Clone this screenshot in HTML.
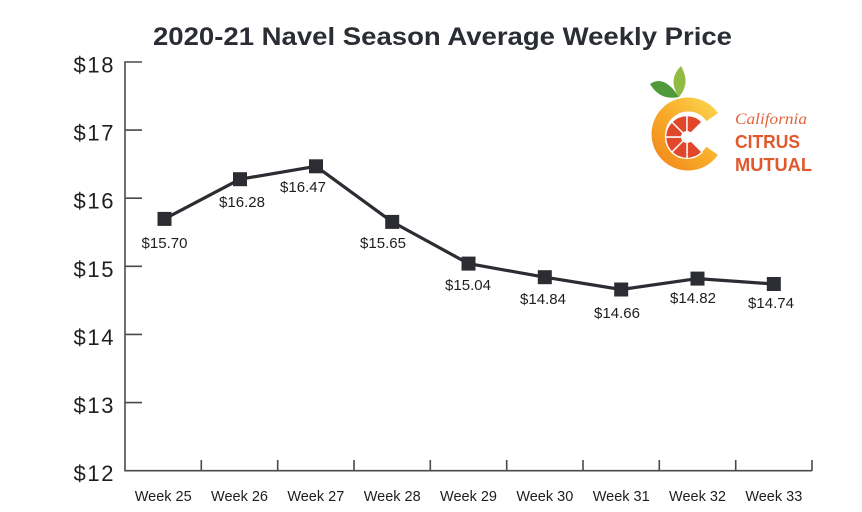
<!DOCTYPE html>
<html>
<head>
<meta charset="utf-8">
<style>
  html,body{margin:0;padding:0;background:#fff;}
  svg{display:block;}
</style>
</head>
<body>
<svg width="862" height="512" viewBox="0 0 862 512" xmlns="http://www.w3.org/2000/svg">
  <rect width="862" height="512" fill="#ffffff"/>
  <defs>
    <linearGradient id="cg" x1="1" y1="0" x2="0" y2="1">
      <stop offset="0" stop-color="#fcd04a"/>
      <stop offset="0.5" stop-color="#f8ac2a"/>
      <stop offset="1" stop-color="#f38a1c"/>
    </linearGradient>
  </defs>

  <!-- Title -->
  <text x="442.5" y="45" text-anchor="middle" font-family="Liberation Sans, sans-serif" font-weight="bold" font-size="25" fill="#2a2d34" textLength="579" lengthAdjust="spacingAndGlyphs">2020-21 Navel Season Average Weekly Price</text>

  <!-- Axes -->
  <g stroke="#4a4a4a" stroke-width="1.6" fill="none">
    <path d="M142,62 H125 V470.7 H812"/>
    <path d="M125,130.1 H142 M125,198.2 H142 M125,266.3 H142 M125,334.4 H142 M125,402.6 H142"/>
    <path d="M201.3,470.7 V460 M277.7,470.7 V460 M354,470.7 V460 M430.3,470.7 V460 M506.7,470.7 V460 M583,470.7 V460 M659.3,470.7 V460 M735.7,470.7 V460 M812,470.7 V460"/>
  </g>

  <!-- Y labels -->
  <g font-family="Liberation Sans, sans-serif" font-size="22" fill="#1e1e1e" text-anchor="end">
    <text x="113.5" y="72.5" textLength="40" lengthAdjust="spacing">$18</text>
    <text x="113.5" y="140.6" textLength="40" lengthAdjust="spacing">$17</text>
    <text x="113.5" y="208.7" textLength="40" lengthAdjust="spacing">$16</text>
    <text x="113.5" y="276.8" textLength="40" lengthAdjust="spacing">$15</text>
    <text x="113.5" y="344.9" textLength="40" lengthAdjust="spacing">$14</text>
    <text x="113.5" y="413.1" textLength="40" lengthAdjust="spacing">$13</text>
    <text x="113.5" y="481.2" textLength="40" lengthAdjust="spacing">$12</text>
  </g>

  <!-- X labels -->
  <g font-family="Liberation Sans, sans-serif" font-size="14.5" fill="#1e1e1e" text-anchor="middle">
    <text x="163.2" y="501">Week 25</text>
    <text x="239.5" y="501">Week 26</text>
    <text x="315.8" y="501">Week 27</text>
    <text x="392.2" y="501">Week 28</text>
    <text x="468.5" y="501">Week 29</text>
    <text x="544.8" y="501">Week 30</text>
    <text x="621.2" y="501">Week 31</text>
    <text x="697.5" y="501">Week 32</text>
    <text x="773.8" y="501">Week 33</text>
  </g>

  <!-- Series line -->
  <polyline fill="none" stroke="#2b2d33" stroke-width="3.2" stroke-linejoin="round"
    points="164.5,218.9 240,179.2 316,166.3 392.2,221.9 468.5,263.6 544.8,277.2 621.2,289.5 697.5,278.6 773.8,284"/>

  <!-- Markers -->
  <g fill="#2b2d33">
    <rect x="157.5" y="211.9" width="14" height="14"/>
    <rect x="233" y="172.2" width="14" height="14"/>
    <rect x="309" y="159.3" width="14" height="14"/>
    <rect x="385.2" y="214.9" width="14" height="14"/>
    <rect x="461.5" y="256.6" width="14" height="14"/>
    <rect x="537.8" y="270.2" width="14" height="14"/>
    <rect x="614.2" y="282.5" width="14" height="14"/>
    <rect x="690.5" y="271.6" width="14" height="14"/>
    <rect x="766.8" y="277" width="14" height="14"/>
  </g>

  <!-- Value labels -->
  <g font-family="Liberation Sans, sans-serif" font-size="15" fill="#1e1e1e" text-anchor="middle">
    <text x="164.5" y="248">$15.70</text>
    <text x="242" y="207">$16.28</text>
    <text x="303" y="192">$16.47</text>
    <text x="383" y="248">$15.65</text>
    <text x="468" y="290">$15.04</text>
    <text x="543" y="304">$14.84</text>
    <text x="617" y="318">$14.66</text>
    <text x="693" y="303">$14.82</text>
    <text x="771" y="308">$14.74</text>
  </g>

  <!-- Logo -->
  <g>
    <!-- leaves -->
    <path d="M650,84 Q664,74 679,97 Q660,101 650,84 Z" fill="#4f9a3b"/>
    <path d="M679,97 Q667,80 681,66 Q691,83 679,97 Z" fill="#92bb43"/>
    <!-- C ring -->
    <path d="M712.2,117.1 A29.5,29.5 0 1 0 712.2,150.9" fill="none" stroke="url(#cg)" stroke-width="14"/>
    <!-- slices -->
    <g fill="#e1472b" stroke="#ffffff" stroke-width="1.3" stroke-linejoin="round" transform="translate(687,137) scale(1.07) translate(-687,-137)">
      <path d="M690.54,140.54 L701.14,151.14 A20,20 0 0 1 687,157 L687,142 A5,5 0 0 0 690.54,140.54 Z"/>
      <path d="M687,142 L687,157 A20,20 0 0 1 672.86,151.14 L683.46,140.54 A5,5 0 0 0 687,142 Z"/>
      <path d="M683.46,140.54 L672.86,151.14 A20,20 0 0 1 667,137 L682,137 A5,5 0 0 0 683.46,140.54 Z"/>
      <path d="M682,137 L667,137 A20,20 0 0 1 672.86,122.86 L683.46,133.46 A5,5 0 0 0 682,137 Z"/>
      <path d="M683.46,133.46 L672.86,122.86 A20,20 0 0 1 687,117 L687,132 A5,5 0 0 0 683.46,133.46 Z"/>
      <path d="M687,132 L687,117 A20,20 0 0 1 701.14,122.86 L690.54,133.46 A5,5 0 0 0 687,132 Z"/>
    </g>
    <!-- logo text -->
    <text x="735" y="124" font-family="Liberation Serif, serif" font-style="italic" font-size="16" fill="#e0643c" textLength="72" lengthAdjust="spacingAndGlyphs">California</text>
    <text x="735" y="148" font-family="Liberation Sans, sans-serif" font-weight="bold" font-size="18" fill="#e0582c" textLength="65" lengthAdjust="spacingAndGlyphs">CITRUS</text>
    <text x="735" y="171" font-family="Liberation Sans, sans-serif" font-weight="bold" font-size="18" fill="#e0582c" textLength="77" lengthAdjust="spacingAndGlyphs">MUTUAL</text>
  </g>
</svg>
</body>
</html>
